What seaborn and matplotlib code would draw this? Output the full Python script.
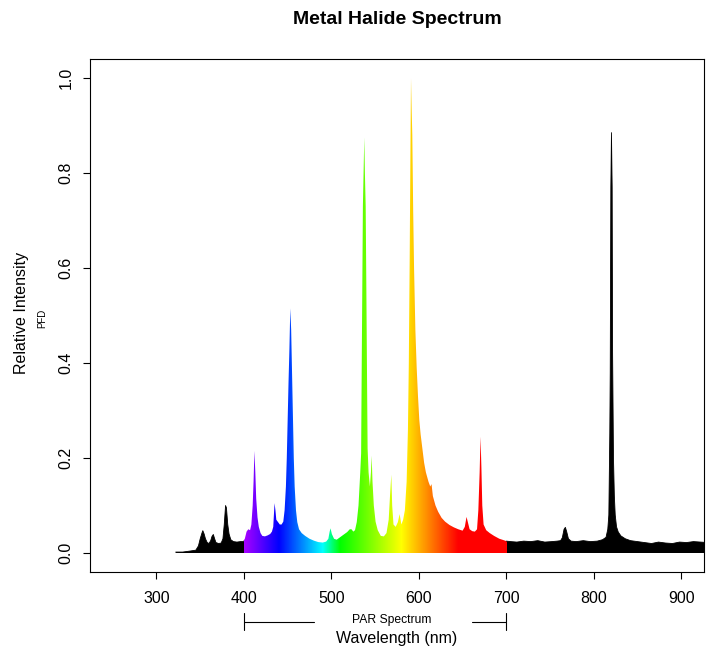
import numpy as np
import pandas as pd
import matplotlib
matplotlib.use("Agg")
import matplotlib.pyplot as plt
import matplotlib.transforms as mtransforms
import seaborn as sns

# ---------------- data ----------------
wavelength = [
    322, 330, 338, 345, 348, 350, 352, 353, 354.5, 356, 358, 360, 362, 363.5, 365,
    366.5, 368, 371, 374, 376, 377.5, 379, 380, 381.5, 383, 385, 388, 392, 396, 399,
    401, 403, 405, 407, 408.5, 410, 411, 412, 413, 414, 415.5, 417, 419, 421, 424,
    427, 430, 432, 433.5, 435, 436, 437, 439, 441, 443, 445, 446.5, 448, 449, 450,
    451, 452, 453, 454, 455, 456, 457, 458, 459.5, 461, 463, 466, 470, 475, 480,
    485, 490, 494, 496.5, 498, 499, 500.5, 503, 506, 509, 512, 515, 518, 521, 523,
    525, 527, 529, 531, 533, 534, 534.7, 535.3, 536, 537, 537.6, 538.3, 539.2, 540,
    540.7, 541.4, 542.5, 544, 545.2, 546, 547, 548.5, 550.5, 553, 556.5, 560, 563,
    565.5, 567, 568.5, 569.5, 571, 573.5, 576, 578, 580, 582, 584, 586, 587.5, 588.5,
    589.5, 590.3, 591, 591.8, 592.5, 593.5, 594.5, 596, 597.5, 599, 600.5, 602, 604,
    606, 608, 611, 613, 614.5, 616, 619, 622, 626, 630, 635, 640, 645, 650, 652.5,
    654.5, 656, 658, 661, 664, 666.5, 668, 669.5, 670.5, 671.5, 672.5, 674, 677, 681,
    686, 692, 697, 700, 705, 712, 720, 728, 736, 744, 752, 758, 762, 764, 766, 767.5,
    769, 771, 774, 780, 788, 796, 804, 810, 814, 816, 817.2, 818.3, 818.8, 819.5,
    820.2, 821, 821.5, 822.5, 823.5, 824.5, 826, 828, 831, 836, 842, 850, 858, 866,
    874, 882, 890, 898, 906, 914, 922, 930,
]
intensity = [
    0.002, 0.002, 0.004, 0.006, 0.015, 0.030, 0.042, 0.047, 0.040, 0.030, 0.022, 0.020, 0.026, 0.035, 0.039,
    0.030, 0.022, 0.020, 0.021, 0.030, 0.060, 0.100, 0.095, 0.060, 0.040, 0.028, 0.024, 0.023, 0.024, 0.024,
    0.030, 0.045, 0.050, 0.048, 0.060, 0.100, 0.150, 0.215, 0.170, 0.115, 0.075, 0.055, 0.042, 0.036, 0.035,
    0.037, 0.040, 0.045, 0.055, 0.105, 0.090, 0.070, 0.065, 0.060, 0.060, 0.066, 0.090, 0.140, 0.200, 0.280,
    0.360, 0.430, 0.515, 0.470, 0.380, 0.290, 0.200, 0.140, 0.090, 0.065, 0.050, 0.042, 0.036, 0.030, 0.026,
    0.023, 0.022, 0.024, 0.030, 0.045, 0.052, 0.040, 0.030, 0.028, 0.032, 0.036, 0.040, 0.044, 0.050, 0.050,
    0.045, 0.048, 0.065, 0.100, 0.170, 0.210, 0.400, 0.550, 0.730, 0.820, 0.875, 0.800, 0.730, 0.550,
    0.380, 0.220, 0.170, 0.140, 0.170, 0.205, 0.150, 0.100, 0.066, 0.048, 0.036, 0.035, 0.042,
    0.070, 0.120, 0.165, 0.100, 0.060, 0.055, 0.065, 0.082, 0.060, 0.070, 0.090, 0.150, 0.260, 0.400,
    0.620, 0.830, 1.000, 0.930, 0.880, 0.720, 0.600, 0.470, 0.390, 0.330, 0.280, 0.250, 0.220,
    0.190, 0.170, 0.150, 0.140, 0.145, 0.120, 0.100, 0.087, 0.074, 0.066, 0.059, 0.054, 0.050, 0.047, 0.055,
    0.076, 0.065, 0.050, 0.046, 0.045, 0.050, 0.090, 0.170, 0.245, 0.180, 0.100, 0.060, 0.048, 0.042,
    0.036, 0.030, 0.027, 0.025, 0.024, 0.023, 0.025, 0.024, 0.026, 0.023, 0.024, 0.025, 0.026, 0.032, 0.050, 0.054,
    0.045, 0.030, 0.025, 0.024, 0.026, 0.024, 0.025, 0.028, 0.033, 0.050, 0.080, 0.250, 0.380, 0.770,
    0.885, 0.770, 0.420, 0.200, 0.120, 0.080, 0.055, 0.044, 0.036, 0.030, 0.026, 0.024, 0.022, 0.020,
    0.023, 0.021, 0.020, 0.023, 0.022, 0.024, 0.023, 0.022,
]
x_ticks = [300, 400, 500, 600, 700, 800, 900]
y_ticks = [0.0, 0.2, 0.4, 0.6, 0.8, 1.0]
y_tick_labels = ["0.0", "0.2", "0.4", "0.6", "0.8", "1.0"]
par_range = [400, 700]
title = "Metal Halide Spectrum"

df = pd.DataFrame({"wavelength": wavelength, "intensity": intensity})


def wl_rgb(w):
    if w < 400 or w > 700:
        return (0.0, 0.0, 0.0)
    if w < 440:
        return ((440 - w) / 60, 0.0, 1.0)
    if w < 490:
        return (0.0, (w - 440) / 50, 1.0)
    if w < 510:
        return (0.0, 1.0, (510 - w) / 20)
    if w < 580:
        return ((w - 510) / 70, 1.0, 0.0)
    if w < 645:
        return (1.0, (645 - w) / 65, 0.0)
    return (1.0, 0.0, 0.0)


sns.set_theme(style="white")
plt.rcParams['font.family'] = ['Liberation Sans', 'DejaVu Sans']
plt.rcParams['text.color'] = 'black'
plt.rcParams['axes.labelcolor'] = 'black'
plt.rcParams['xtick.color'] = 'black'
plt.rcParams['ytick.color'] = 'black'

W, H = 711, 651
fig = plt.figure(figsize=(W / 100, H / 100), dpi=100)
L, R, T, B = 90, 704, 59, 572
ax = fig.add_axes([L / W, 1 - B / H, (R - L) / W, (B - T) / H])

xmin, xmax = 224, 926
# invisible polygon of the spectrum, used as a clip path for the colour gradient
poly = ax.fill_between(df["wavelength"], 0, df["intensity"], facecolor="none",
                       edgecolor="none", linewidth=0)
xs = np.arange(xmin, 935, 0.25)
img = np.array([wl_rgb(x) for x in xs])[np.newaxis, :, :]
im = ax.imshow(img, extent=[xmin, 935, 0, 1.05], aspect="auto", origin="lower",
               interpolation="nearest", zorder=2)
im.set_clip_path(poly.get_paths()[0], transform=ax.transData)

# black outlines for the non-PAR parts
uv = df[df["wavelength"] <= 400]
ir = df[df["wavelength"] >= 700]
sns.lineplot(data=uv, x="wavelength", y="intensity", color="black", lw=0.6,
             estimator=None, sort=False, ax=ax, zorder=3)
sns.lineplot(data=ir, x="wavelength", y="intensity", color="black", lw=0.6,
             estimator=None, sort=False, ax=ax, zorder=3)

ax.set_xlim(xmin, xmax)
ax.set_ylim(-0.04, 1.04)
ax.set_xticks(x_ticks)
ax.set_xticklabels([str(t) for t in x_ticks], fontsize=11.5)
ax.set_yticks(y_ticks)
ax.set_yticklabels(y_tick_labels, fontsize=11.5, rotation=90, va="center")
ax.tick_params(axis="both", direction="out", length=5, width=0.8, color="black",
               labelcolor="black", bottom=True, left=True)
ax.tick_params(axis="x", pad=9)
ax.tick_params(axis="y", pad=7)
ax.set_xlabel("")
ax.set_ylabel("")
for s in ax.spines.values():
    s.set_color("black")
    s.set_linewidth(0.8)
    s.set_visible(True)
ax.grid(False)


def fy(py):
    return 1 - py / H


def fx(px):
    return px / W


fig.text(fx(397), fy(20), title, ha="center", va="center", fontsize=14,
         fontweight="bold", color="black")
fig.text(fx(397), fy(639), "Wavelength (nm)", ha="center", va="center", fontsize=11.5,
         color="black")
fig.text(fx(392), fy(620), "PAR Spectrum", ha="center", va="center", fontsize=8.7,
         color="black")
fig.text(fx(22), fy(313), "Relative Intensity", ha="center", va="center", fontsize=11.5,
         rotation=90, color="black")
fig.text(fx(42), fy(318), "PFD", ha="center", va="center", fontsize=7, rotation=90,
         color="black")

# PAR bracket (x in data coordinates, y in figure coordinates)
trans = mtransforms.blended_transform_factory(ax.transData, fig.transFigure)
ax.plot([par_range[0], 480], [fy(621.5)] * 2, color="black", lw=0.8, transform=trans, clip_on=False)
ax.plot([661, par_range[1]], [fy(621.5)] * 2, color="black", lw=0.8, transform=trans, clip_on=False)
for xv in par_range:
    ax.plot([xv, xv], [fy(613), fy(630)], color="black", lw=0.8, transform=trans, clip_on=False)

fig.savefig("out.png", dpi=100)
